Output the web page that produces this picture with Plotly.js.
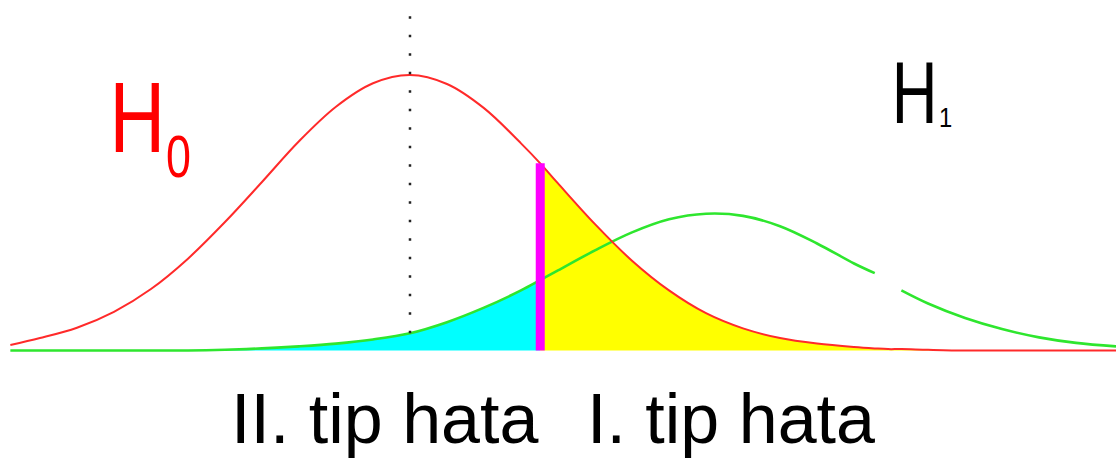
<!DOCTYPE html>
<html>
<head>
<meta charset="utf-8">
<script src="https://cdn.plot.ly/plotly-3.0.1.min.js"></script>
<style>
  html, body { margin: 0; padding: 0; background: #ffffff; overflow: hidden; }
  #chart { width: 1116px; height: 458px; }
</style>
</head>
<body>
<div id="chart"></div>
<script>
// Test statistic, in standard units of the null distribution
const z = [-2.7, -2.5, -2.25, -2.0, -1.75, -1.5, -1.25, -1.0, -0.75, -0.5, -0.25, 0,
           0.25, 0.5, 0.75, 0.88, 1.0, 1.25, 1.5, 1.75, 2.0, 2.25, 2.5, 2.75, 3.0,
           3.14, 3.23, 3.32, 3.5, 3.75, 4.0, 4.25, 4.5, 4.77];

// Density under H0
const h0 = [0.008, 0.018, 0.033, 0.056, 0.089, 0.133, 0.186, 0.244, 0.303, 0.353, 0.387, 0.399,
            0.386, 0.351, 0.300, 0.271, 0.242, 0.183, 0.130, 0.087, 0.054, 0.032, 0.018, 0.010, 0.005,
            0.003, 0.002, 0.002, 0.001, 0, 0, 0, 0, 0];

// Density under H1 (the curve is broken around 3.23)
const h1 = [0, 0, 0, 0, 0, 0, 0.001, 0.003, 0.006, 0.010, 0.016, 0.025,
            0.041, 0.062, 0.087, 0.102, 0.116, 0.145, 0.171, 0.190, 0.198, 0.195, 0.180, 0.155, 0.126,
            0.112, null, 0.087, 0.068, 0.047, 0.031, 0.019, 0.011, 0.006];

const critical = 0.88;   // rejection threshold
const nullMean = 0;      // centre of H0
const guideTop = 0.49;   // top of the dotted guide at the H0 mean

const labelH0 = 'H';
const subH0 = '0';
const labelH1 = 'H';
const subH1 = '1';
const errorII = 'II. tip hata';
const errorI = 'I. tip hata';

// Split the grid at the threshold for the two shaded tails
const rightIdx = z.map((v, i) => i).filter(i => z[i] >= critical);
const leftIdx = z.map((v, i) => i).filter(i => z[i] <= critical);
const critIdx = z.indexOf(critical);
const meanIdx = z.indexOf(nullMean);

const RED = '#ff2a2a';
const GREEN = '#2ee62e';
const SANS = '"Liberation Sans", Arial, sans-serif';

const traces = [
  { // type II error: H1 mass left of the threshold
    x: leftIdx.map(i => z[i]), y: leftIdx.map(i => h1[i]),
    type: 'scatter', mode: 'lines', fill: 'tozeroy', fillcolor: '#00ffff',
    line: { width: 0, shape: 'spline' }, hoverinfo: 'skip'
  },
  { // type I error: H0 mass right of the threshold
    x: rightIdx.map(i => z[i]), y: rightIdx.map(i => h0[i]),
    type: 'scatter', mode: 'lines', fill: 'tozeroy', fillcolor: '#ffff00',
    line: { width: 0, shape: 'spline' }, hoverinfo: 'skip'
  },
  { // H1 curve
    x: z, y: h1, type: 'scatter', mode: 'lines', connectgaps: false,
    line: { color: GREEN, width: 2.6, shape: 'spline' }
  },
  { // H0 curve
    x: z, y: h0, type: 'scatter', mode: 'lines',
    line: { color: RED, width: 2, shape: 'spline' }
  },
  { // threshold
    x: [critical, critical], y: [0, h0[critIdx]], type: 'scatter', mode: 'lines',
    line: { color: '#ff00ff', width: 9 }
  },
  { // dotted guide at the H0 mean
    x: [nullMean, nullMean], y: [h1[meanIdx], guideTop], type: 'scatter', mode: 'lines',
    line: { color: '#222222', width: 2.5, dash: '2.5px,16px' }
  }
];

function px(xp, yp) { return { x: xp / 1116, y: 1 - yp / 458 }; }

function label(text, xp, yp, size, color, xanchor) {
  const p = px(xp, yp);
  return {
    text: text, xref: 'paper', yref: 'paper', x: p.x, y: p.y,
    xanchor: xanchor || 'center', yanchor: 'middle', showarrow: false, borderpad: 0,
    font: { family: SANS, size: size, color: color }
  };
}

const layout = {
  width: 1116, height: 458,
  margin: { l: 0, r: 0, t: 0, b: 0 },
  paper_bgcolor: '#ffffff', plot_bgcolor: '#ffffff',
  showlegend: false,
  xaxis: { range: [-2.770, 4.770], visible: false, fixedrange: true },
  yaxis: { range: [-0.1557, 0.5076], visible: false, fixedrange: true },
  annotations: [
    label(labelH0, 166, 116.5, 100, '#ff0000', 'right'),
    label(subH0, 165, 157, 59, '#ff0000', 'left'),
    label(labelH1, 939, 92.5, 88, '#000000', 'right'),
    label(subH1, 938, 117, 28, '#000000', 'left'),
    label(errorII, 384, 419, 70, '#000000'),
    label(errorI, 731, 419, 70, '#000000')
  ]
};

// Hypothesis labels use a condensed face: squeeze them horizontally about their anchor side
const condensed = [
  { index: 0, scale: 0.77, pivot: 'right' },
  { index: 1, scale: 0.76, pivot: 'left' },
  { index: 2, scale: 0.72, pivot: 'right' },
  { index: 3, scale: 0.85, pivot: 'left' }
];

Plotly.newPlot('chart', traces, layout, { staticPlot: true, displayModeBar: false }).then(gd => {
  const groups = gd.querySelectorAll('.annotation');
  condensed.forEach(c => {
    const g = groups[c.index];
    if (!g) return;
    const t = g.querySelector('text.annotation-text');
    if (!t) return;
    const bb = t.getBBox();
    const cx = c.pivot === 'right' ? bb.x + bb.width : bb.x;
    t.setAttribute('transform', `translate(${cx},0) scale(${c.scale},1) translate(${-cx},0)`);
  });
});
</script>
</body>
</html>
